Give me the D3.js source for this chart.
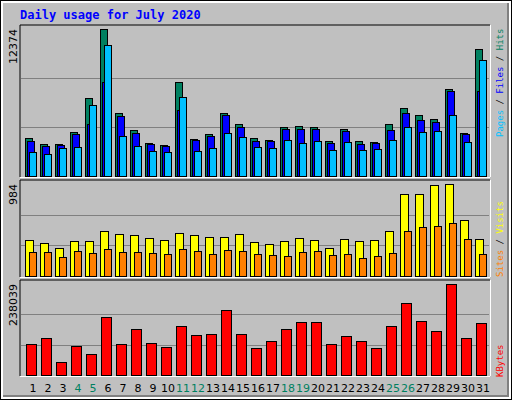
<!DOCTYPE html>
<html><head><meta charset="utf-8">
<script src="https://cdn.jsdelivr.net/npm/d3@7"></script>
<style>body{margin:0;background:#fff}svg{display:block}</style>
</head><body><div id="chart"></div>
<script>
const days = d3.range(1, 32);
const weekends = [4, 5, 11, 12, 18, 19, 25, 26];
const hits = [3220,2716,2716,3724,6580,12374,5320,3892,2800,2632,7924,3136,3556,5320,4396,3220,3052,4144,4228,4144,2968,3976,2968,2884,4396,5740,5152,4816,7336,3640,10696];
const files = [2968,2548,2632,3556,4396,7924,5068,3640,2716,2548,5572,3052,3388,5152,4144,2968,2968,3976,3976,3976,2800,3808,2716,2800,3892,5320,4732,4564,7168,3556,7168];
const pages = [2044,1876,2380,2464,5992,11032,3388,2548,2128,2044,6664,2128,2380,3640,3304,2464,2380,3052,2800,2968,2212,2884,2212,2296,3052,4144,3724,3808,5152,2884,9772];
const sites = [385,353,299,374,374,481,449,438,406,385,460,438,417,417,449,364,342,374,406,385,299,396,374,385,481,877,877,973,984,599,396];
const visits = [257,257,203,267,246,289,257,257,246,235,289,267,235,278,267,235,225,214,257,267,225,235,193,214,246,481,524,535,567,396,235];
const kbytes = [81096,96792,34008,75864,54936,151728,81096,120336,83712,73248,128184,104640,107256,170040,107256,70632,88944,120336,138648,138648,81096,102024,88944,70632,128184,188352,141264,115104,238039,96792,136032];

const W = 512, H = 400;
const svg = d3.select('#chart').append('svg').attr('width', W).attr('height', H);

// window frame
svg.append('rect').attr('x', 0).attr('y', 0).attr('width', W).attr('height', H).attr('fill', '#000');
svg.append('rect').attr('x', 1).attr('y', 1).attr('width', W - 2).attr('height', H - 2).attr('fill', '#fff');
svg.append('rect').attr('x', 3).attr('y', 3).attr('width', W - 6).attr('height', H - 6).attr('fill', '#808080');
svg.append('rect').attr('x', 3).attr('y', 3).attr('width', W - 8).attr('height', H - 8).attr('fill', '#c0c0c0');

svg.append('text').attr('x', 20).attr('y', 19)
   .attr('font-family', 'DejaVu Sans Mono').attr('font-weight', 'bold').attr('font-size', 12)
   .attr('fill', '#0000ff').text('Daily usage for July 2020');

const x = d3.scaleBand().domain(days).range([20, 485]).paddingInner(0);

function panel(top, bottom, max, label) {
    const y = d3.scaleLinear().domain([0, max]).range([bottom, top + 4]);
    svg.append('rect').attr('x', 20).attr('y', top).attr('width', 470).attr('height', bottom - top + 1)
       .attr('fill', '#c0c0c0').attr('stroke', 'none');
    svg.append('line').attr('x1', 20).attr('x2', 490).attr('y1', top).attr('y2', top).attr('stroke', '#000');
    svg.append('line').attr('x1', 20).attr('x2', 20).attr('y1', top).attr('y2', bottom + 1).attr('stroke', '#000');
    svg.append('line').attr('x1', 20).attr('x2', 490).attr('y1', bottom + 1.5).attr('y2', bottom + 1.5).attr('stroke', '#fff');
    svg.append('line').attr('x1', 490.5).attr('x2', 490.5).attr('y1', top).attr('y2', bottom + 1).attr('stroke', '#fff');
    const h = bottom - (top + 4);
    [1, 2].forEach(i => {
        svg.append('line').attr('x1', 21).attr('x2', 489)
           .attr('y1', Math.round(bottom - h * i / 3) + 0.5).attr('y2', Math.round(bottom - h * i / 3) + 0.5)
           .attr('stroke', '#808080');
    });
    svg.append('text').attr('transform', `translate(17,${top + 4}) rotate(-90)`)
       .attr('text-anchor', 'end').attr('font-family', 'DejaVu Sans').attr('font-size', 11)
       .text(label);
    return y;
}

function bars(y, data, off, w, fill) {
    svg.append('g').selectAll('rect').data(data).join('rect')
       .attr('x', (d, i) => x(days[i]) + off + 0.5)
       .attr('y', d => Math.round(y(d)) + 0.5)
       .attr('width', w)
       .attr('height', d => y(0) - Math.round(y(d)))
       .attr('fill', fill).attr('stroke', '#000').attr('stroke-width', 1);
}

const y1 = panel(25, 176, 12374, '12374');
bars(y1, hits, 5, 7, '#008060');
bars(y1, files, 7, 7, '#0000ff');
bars(y1, pages, 9, 7, '#00c0ff');

const y2 = panel(180, 276, 984, '984');
bars(y2, sites, 5, 8, '#ffff00');
bars(y2, visits, 9, 7, '#ff8000');

const y3 = panel(280, 375, 238039, '238039');
bars(y3, kbytes, 6, 10, '#ff0000');

// x labels
svg.append('g').selectAll('text').data(days).join('text')
   .attr('x', d => x(d) + 13).attr('y', 392)
   .attr('text-anchor', 'middle').attr('font-family', 'DejaVu Sans').attr('font-size', 11)
   .attr('fill', d => weekends.includes(d) ? '#008060' : '#000').text(d => d);

// right legends
function legendEnd(yBottom, parts) {
    const t = svg.append('text').attr('transform', `translate(503,${yBottom}) rotate(-90)`)
        .attr('font-family', 'DejaVu Sans Mono').attr('font-size', 9);
    parts.forEach(p => t.append('tspan').attr('fill', p[1]).text(p[0]));
}
legendEnd(137, [['Pages', '#00c0ff'], [' / ', '#000'], ['Files', '#0000ff'], [' / ', '#000'], ['Hits', '#008060']]);
legendEnd(277, [['Sites', '#ff8000'], [' / ', '#000'], ['Visits', '#ffff00']]);
legendEnd(377, [['KBytes', '#ff0000']]);
</script></body></html>
